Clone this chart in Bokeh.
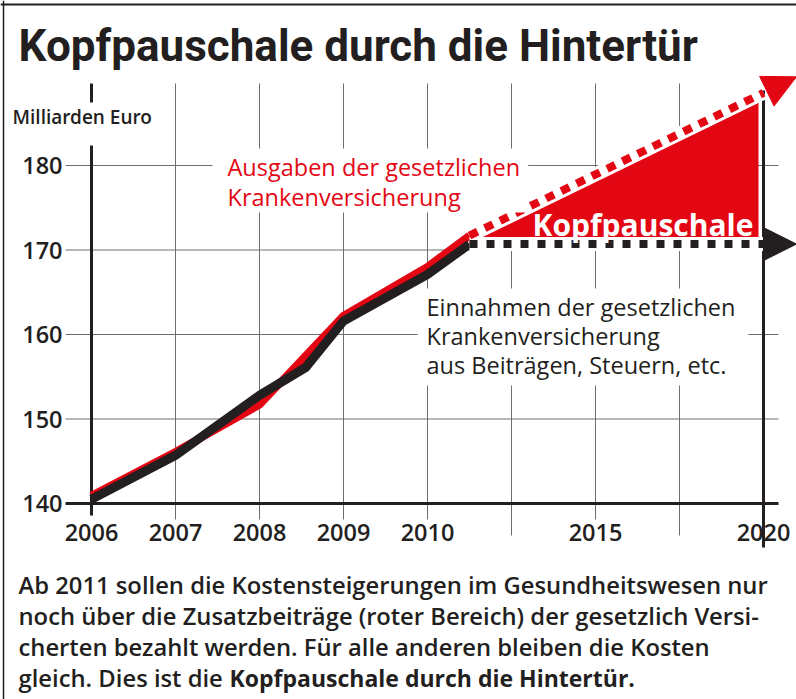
import numpy as np
from bokeh.plotting import figure
from bokeh.models import Range1d, Label, Span, Arrow, NormalHead
from bokeh.embed import file_html
from bokeh.resources import INLINE
from bokeh.core.properties import value

# ---------------- data ----------------
x_ticks = [0, 1, 2, 3, 4, 5, 6, 7, 8]
x_tick_labels = ["2006", "2007", "2008", "2009", "2010", "", "2015", "", "2020"]
y_ticks = [140, 150, 160, 170, 180]
y_tick_labels = ["140", "150", "160", "170", "180"]

# Ausgaben der gesetzlichen Krankenversicherung (Mrd. Euro)
ausgaben_x = [0, 1, 2, 3, 4, 4.5]
ausgaben_y = [140.9, 146.1, 151.7, 162.2, 168.0, 171.7]
# Einnahmen aus Beiträgen, Steuern etc. (Mrd. Euro)
einnahmen_x = [0, 1, 2, 2.55, 3, 4, 4.5]
einnahmen_y = [140.5, 145.7, 152.8, 156.1, 161.6, 167.1, 170.7]

# Projection until 2020
prognose_x = [4.5, 8.0]
ausgaben_prognose = [171.7, 188.6]
einnahmen_prognose = [170.7, 170.7]

# ---------------- styles ----------------
RED = "#e30613"
BLACK = "#231f20"
GRID = "#6d6e71"
FONT = "Open Sans"
FONT_SB = "Open Sans SemiBold, Open Sans"

W, H = 796, 699
X0_PX, X_STEP = 91, 84.0     # pixel of first tick, pixels per tick
Y0_PX, Y_STEP = 503, 8.45    # pixel of 140, pixels per unit


def px_x(px):
    return (px - X0_PX) / X_STEP


def px_y(py):
    return 140 + (Y0_PX - py) / Y_STEP


p = figure(width=W, height=H, output_backend="svg", toolbar_location=None,
           x_range=Range1d(px_x(0), px_x(W)), y_range=Range1d(px_y(H), px_y(0)),
           x_axis_type=None, y_axis_type=None, min_border=0,
           outline_line_color=None, background_fill_color="white",
           border_fill_color="white")
p.grid.visible = False

grid_left, grid_right, grid_top = px_x(65), px_x(778), px_y(83)

# horizontal grid lines
hy = y_ticks[1:]
p.segment(x0=[grid_left] * len(hy), y0=hy, x1=[grid_right] * len(hy), y1=hy,
          line_color=GRID, line_width=1)

# vertical grid lines (ticks between first and last)
vx = x_ticks[1:-1]
vbot = [px_y(535) if lab == "" else px_y(519) for lab in x_tick_labels[1:-1]]
p.segment(x0=vx, y0=[grid_top] * len(vx), x1=vx, y1=vbot,
          line_color=GRID, line_width=1)

# tick labels
p.text(x=x_ticks, y=[140] * len(x_ticks), text=x_tick_labels, y_offset=29,
       text_align="center", text_baseline="middle", text_font=value(FONT_SB),
       text_font_size="23.5px", text_color=BLACK)
p.text(x=[0] * len(y_ticks), y=y_ticks, text=y_tick_labels, x_offset=-29,
       text_align="right", text_baseline="middle", text_font=value(FONT_SB),
       text_font_size="23.5px", text_color=BLACK)

# axis lines
p.segment(x0=[grid_left], y0=[140], x1=[grid_right], y1=[140], line_color=BLACK, line_width=3)
p.segment(x0=[x_ticks[0]], y0=[px_y(515)], x1=[x_ticks[0]], y1=[grid_top],
          line_color=BLACK, line_width=3)
p.segment(x0=[x_ticks[-1]], y0=[px_y(547)], x1=[x_ticks[-1]], y1=[px_y(90)],
          line_color=BLACK, line_width=3)

# historical lines
p.line(ausgaben_x, ausgaben_y, line_color=RED, line_width=8, line_join="miter")
p.line(einnahmen_x, einnahmen_y, line_color=BLACK, line_width=9, line_join="miter")

# red area (Kopfpauschale)
tri_r = px_x(758)
top_r = float(np.interp(tri_r, prognose_x, ausgaben_prognose))
p.patch(x=[prognose_x[0], tri_r, tri_r, prognose_x[0]],
        y=[ausgaben_prognose[0], top_r, einnahmen_prognose[0], einnahmen_prognose[0]],
        fill_color=RED, line_color=None)

# dotted projections with white halo
p.line(prognose_x, ausgaben_prognose, line_color="white", line_width=14)
p.line(prognose_x, einnahmen_prognose, line_color="white", line_width=14)
p.line(prognose_x, ausgaben_prognose, line_color=RED, line_width=8, line_dash="9 8")
p.line(prognose_x, einnahmen_prognose, line_color=BLACK, line_width=8, line_dash="8 9")

# arrow heads
slope = (ausgaben_prognose[1] - ausgaben_prognose[0]) / (prognose_x[1] - prognose_x[0])
tip_x = px_x(W)
p.add_layout(Arrow(end=NormalHead(size=33, fill_color=RED, line_color=RED, line_width=1),
                   x_start=prognose_x[1], y_start=ausgaben_prognose[1],
                   x_end=tip_x, y_end=ausgaben_prognose[1] + slope * (tip_x - prognose_x[1]),
                   line_color=None))
p.add_layout(Arrow(end=NormalHead(size=33, fill_color=BLACK, line_color=BLACK, line_width=1),
                   x_start=prognose_x[1], y_start=einnahmen_prognose[1],
                   x_end=tip_x, y_end=einnahmen_prognose[1],
                   line_color=None))

# ---------------- texts ----------------
def lab(text, x, y_from_top, size, color=BLACK, style="normal", font=FONT_SB,
        baseline="alphabetic", bg=None, pad=None, lh=1.2):
    kw = dict(x=x, y=H - y_from_top, x_units="screen", y_units="screen", text=text,
              text_font=font, text_font_size=size, text_font_style=style,
              text_color=color, text_baseline=baseline, text_line_height=lh)
    if bg:
        kw["background_fill_color"] = bg
    if pad:
        kw["padding"] = dict(left=pad[0], right=pad[1], top=pad[2], bottom=pad[3])
    p.add_layout(Label(**kw))


lab("Kopfpauschale durch die Hintertür", 18, 45, "44px", style="bold", font="Roboto")
lab("Milliarden Euro", 9, 123.5, "19px", bg="white", pad=(3, 3, 1, 16))
lab("Ausgaben der gesetzlichen\nKrankenversicherung", 212, 148, "23.5px", color=RED,
    font=FONT, baseline="top", bg="white", pad=(15, 8, 2, 0), lh=0.94)
lab("Einnahmen der gesetzlichen\nKrankenversicherung\naus Beiträgen, Steuern, etc.",
    417, 288, "23.5px", font=FONT, baseline="top", bg="white", pad=(9, 13, 2, 4), lh=0.92)
lab("Kopfpauschale", 532, 223.5, "30px", color="white", style="bold", font=FONT)

body = ["Ab 2011 sollen die Kostensteigerungen im Gesundheitswesen nur",
        "noch über die Zusatzbeiträge (roter Bereich) der gesetzlich Versi-",
        "cherten bezahlt werden. Für alle anderen bleiben die Kosten",
        "gleich. Dies ist die "]
for i, t in enumerate(body):
    lab(t, 18, 584 + 31 * i, "23.8px", lh=1.0)
lab("Kopfpauschale durch die Hintertür.", 229, 584 + 31 * 3, "23px", style="bold",
    font=FONT, lh=1.0)

# frame lines
p.add_layout(Span(location=H - 4, location_units="screen", dimension="width",
                  line_color=BLACK, line_width=2))
p.add_layout(Span(location=3, location_units="screen", dimension="height",
                  line_color=BLACK, line_width=1.5))

open("out.html", "w").write(file_html(p, INLINE))
